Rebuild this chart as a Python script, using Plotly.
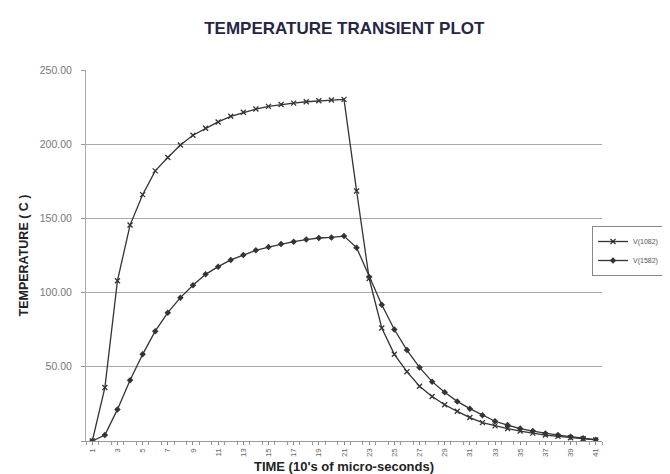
import plotly.graph_objects as go

time_steps = list(range(1, 42))
v1082 = [0, 36, 108, 145.5, 166, 182, 191, 199.5, 206, 210.7, 215, 218.8, 221.5, 223.7,
         225.5, 226.8, 227.7, 228.6, 229.3, 229.8, 230.2, 168.5, 109.5, 76.2, 58.4, 46.7,
         36.9, 30.0, 24.4, 20.0, 15.8, 12.4, 10.2, 8.4, 6.7, 5.3, 4.0, 3.1, 2.2, 1.5, 0.7]
v1582 = [0, 4, 21.3, 40.9, 58.4, 74, 86.5, 96.6, 105, 112.3, 117.5, 122, 125.3, 128.5,
         130.7, 132.7, 134.3, 135.7, 136.8, 137.2, 138.1, 130.3, 110.5, 91.8, 75.1, 61.3,
         49.6, 40.0, 32.9, 26.7, 21.8, 17.3, 13.3, 10.7, 8.4, 6.7, 5.1, 4.0, 2.9, 1.8, 0.9]
x_tick_vals = list(range(1, 42, 2))
x_tick_text = [str(v) for v in x_tick_vals]
y_tick_vals = [0, 50, 100, 150, 200, 250]
y_tick_text = ["", "50.00", "100.00", "150.00", "200.00", "250.00"]

FONT = "Liberation Sans, Arial, sans-serif"
LINE = "#333338"

fig = go.Figure()
fig.add_trace(go.Scatter(
    x=time_steps, y=v1082, name="V(1082)", mode="lines+markers",
    line=dict(color=LINE, width=1.3),
    marker=dict(symbol="x-thin", size=5, color=LINE, line=dict(width=1.3, color=LINE)),
))
fig.add_trace(go.Scatter(
    x=time_steps, y=v1582, name="V(1582)", mode="lines+markers",
    line=dict(color=LINE, width=1.3),
    marker=dict(symbol="diamond", size=5, color=LINE),
))

plot_w = 670 - 78 - 76
plot_h = 474 - 62 - 41
fig.update_layout(
    width=670, height=474,
    margin=dict(l=78, r=76, t=62, b=41, autoexpand=False),
    paper_bgcolor="white", plot_bgcolor="white",
    font=dict(family=FONT, color="#333"),
    title=dict(text="<b>TEMPERATURE TRANSIENT PLOT</b>", x=0.502, xanchor="center",
               y=0.958, yanchor="middle",
               font=dict(family=FONT, size=17, color="#262645")),
    showlegend=True,
    legend=dict(x=(584 - 78) / plot_w, y=(433 - 218) / plot_h,
                xanchor="left", yanchor="top",
                font=dict(size=7, color="#555"),
                bordercolor="#888", borderwidth=1, bgcolor="white",
                tracegroupgap=0, itemwidth=30),
)

fig.update_xaxes(
    range=[0.5, 41.5], tickmode="array", tickvals=x_tick_vals, ticktext=x_tick_text,
    tickangle=-90, tickfont=dict(size=8, color="#666"),
    ticks="outside", ticklen=3, tickcolor="#888",
    minor=dict(tickmode="linear", tick0=0.5, dtick=1, ticks="outside", ticklen=3, tickcolor="#999"),
    showgrid=False, showline=True, linecolor="#999", linewidth=1, zeroline=False,
    title=dict(text="<b>TIME (10's of micro-seconds)</b>", standoff=5,
               font=dict(size=13, color="#222")),
)
fig.update_yaxes(
    range=[0, 250], tickmode="array", tickvals=y_tick_vals, ticktext=y_tick_text,
    tickfont=dict(size=10.5, color="#777"),
    ticks="outside", ticklen=4, tickcolor="#999", ticklabelstandoff=7,
    showgrid=True, gridcolor="#aaa", gridwidth=1,
    showline=True, linecolor="#aaa", linewidth=1, zeroline=False,
    title=dict(text="<b>TEMPERATURE ( C )</b>", standoff=8,
               font=dict(size=12.5, color="#222")),
)

fig.write_html("out.html")
